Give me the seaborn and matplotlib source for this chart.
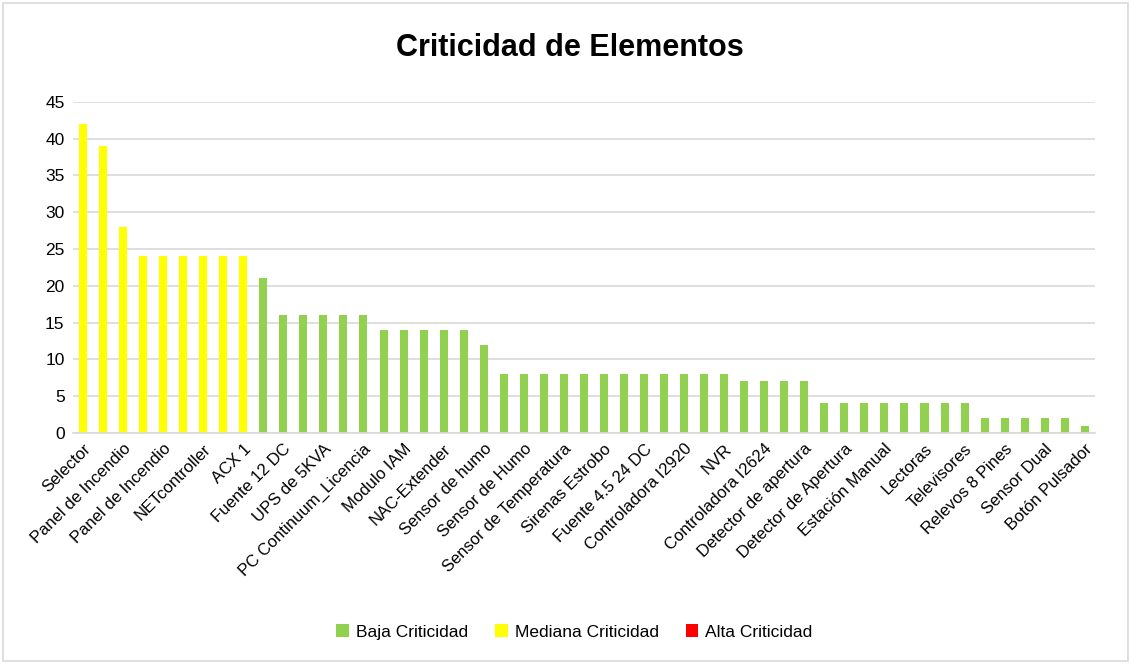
import matplotlib
matplotlib.use("Agg")
import matplotlib.pyplot as plt
import seaborn as sns
import pandas as pd
from matplotlib.patches import Patch, Rectangle

# ---- data ----
values = [42, 39, 28, 24, 24, 24, 24, 24, 24,
          21, 16, 16, 16, 16, 16, 14, 14, 14, 14, 14, 12,
          8, 8, 8, 8, 8, 8, 8, 8, 8, 8, 8, 8,
          7, 7, 7, 7,
          4, 4, 4, 4, 4, 4, 4, 4,
          2, 2, 2, 2, 2, 1]
levels = ["Mediana Criticidad"] * 9 + ["Baja Criticidad"] * 42
# labels visible on the axis (every other bar)
tick_labels = ["Selector", "Panel de Incendio", "Panel de Incendio", "NETcontroller", "ACX 1",
               "Fuente 12 DC", "UPS de 5KVA", "PC Continuum_Licencia", "Modulo IAM",
               "NAC-Extender", "Sensor de humo", "Sensor de Humo", "Sensor de Temperatura",
               "Sirenas Estrobo", "Fuente 4.5 24 DC", "Controladora I2920", "NVR",
               "Controladora I2624", "Detector de apertura", "Detector de Apertura",
               "Estación Manual", "Lectoras", "Televisores", "Relevos 8 Pines",
               "Sensor Dual", "Botón Pulsador"]
legend_levels = ["Baja Criticidad", "Mediana Criticidad", "Alta Criticidad"]
colors = {"Baja Criticidad": "#92D050", "Mediana Criticidad": "#FFFF00", "Alta Criticidad": "#FF0000"}

df = pd.DataFrame({"pos": list(range(len(values))), "valor": values, "nivel": levels})

sns.set_theme(style="white")
plt.rcParams["font.family"] = ["Liberation Sans Narrow", "Liberation Sans", "DejaVu Sans"]
plt.rcParams["text.color"] = "black"
plt.rcParams["xtick.color"] = "black"
plt.rcParams["ytick.color"] = "black"

fig = plt.figure(figsize=(11.31, 6.66), dpi=100)
ax = fig.add_axes([0.0645, 0.35, 0.9035, 0.497])

sns.barplot(data=df, x="pos", y="valor", hue="nivel", palette=colors, saturation=1,
            dodge=False, width=0.4, ax=ax, legend=False, linewidth=0)

ax.set_ylim(0, 45)
ax.set_xlim(-0.5, len(values) - 0.5)
ax.set_yticks(range(0, 46, 5))
ax.set_yticklabels([str(v) for v in range(0, 46, 5)], fontsize=12.5)
ax.yaxis.grid(True, color="#D9D9D9", linewidth=1.2)
ax.set_axisbelow(True)
for s in ["top", "right", "left"]:
    ax.spines[s].set_visible(False)
ax.spines["bottom"].set_color("#D9D9D9")
ax.spines["bottom"].set_linewidth(1.2)
ax.tick_params(axis="both", length=0, pad=6)

ax.set_xticks(list(range(0, len(values), 2)))
ax.set_xticklabels(tick_labels, rotation=45, ha="right", rotation_mode="anchor", fontsize=12)
ax.set_xlabel("")
ax.set_ylabel("")

fig.text(0.504, 0.928, "Criticidad de Elementos", ha="center", va="center",
         fontsize=22, fontweight="bold")

handles = [Patch(facecolor=colors[l], edgecolor="none") for l in legend_levels]
fig.legend(handles, legend_levels, loc="center", bbox_to_anchor=(0.508, 0.051), ncol=3,
           frameon=False, fontsize=12.5, handlelength=0.7, handleheight=0.7,
           handletextpad=0.4, columnspacing=1.6)

fig.patches.append(Rectangle((0.003, 0.008), 0.994, 0.987, transform=fig.transFigure,
                             fill=False, edgecolor="#D9D9D9", linewidth=1.2))

fig.savefig("out.png", dpi=100)
